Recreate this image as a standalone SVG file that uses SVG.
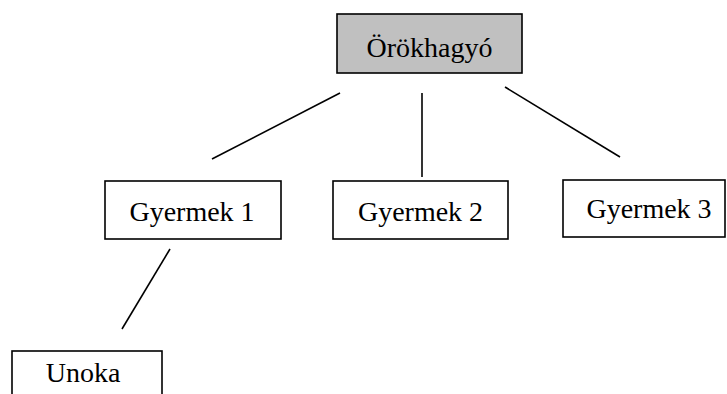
<svg xmlns="http://www.w3.org/2000/svg" width="727" height="394" viewBox="0 0 727 394">
  <style>
    .box { fill: #ffffff; stroke: #000000; stroke-width: 1.6; }
    .root { fill: #c0c0c0; stroke: #000000; stroke-width: 1.6; }
    .lbl { font-family: "Liberation Serif", "Times New Roman", serif; font-size: 28px; fill: #000000; text-anchor: middle; }
    .edge { stroke: #000000; stroke-width: 1.6; fill: none; }
  </style>
  <rect width="727" height="394" fill="#ffffff"/>
  <g id="connectors">
    <line class="edge" x1="340" y1="93" x2="212" y2="159"/>
    <line class="edge" x1="422" y1="93" x2="422" y2="177"/>
    <line class="edge" x1="505" y1="87" x2="620" y2="157"/>
    <line class="edge" x1="170" y1="249" x2="122" y2="329"/>
  </g>
  <g id="node-orokhagyo">
    <rect class="root" x="337" y="14" width="185" height="59"/>
    <text class="lbl" x="429.5" y="57">Örökhagyó</text>
  </g>
  <g id="node-gyermek1">
    <rect class="box" x="105" y="181" width="176" height="58"/>
    <text class="lbl" x="192" y="221">Gyermek 1</text>
  </g>
  <g id="node-gyermek2">
    <rect class="box" x="333" y="181" width="175" height="58"/>
    <text class="lbl" x="420.5" y="221">Gyermek 2</text>
  </g>
  <g id="node-gyermek3">
    <rect class="box" x="563" y="180" width="162" height="57"/>
    <text class="lbl" x="649" y="218">Gyermek 3</text>
  </g>
  <g id="node-unoka">
    <rect class="box" x="12" y="351" width="150" height="60"/>
    <text class="lbl" x="83" y="382">Unoka</text>
  </g>
</svg>
